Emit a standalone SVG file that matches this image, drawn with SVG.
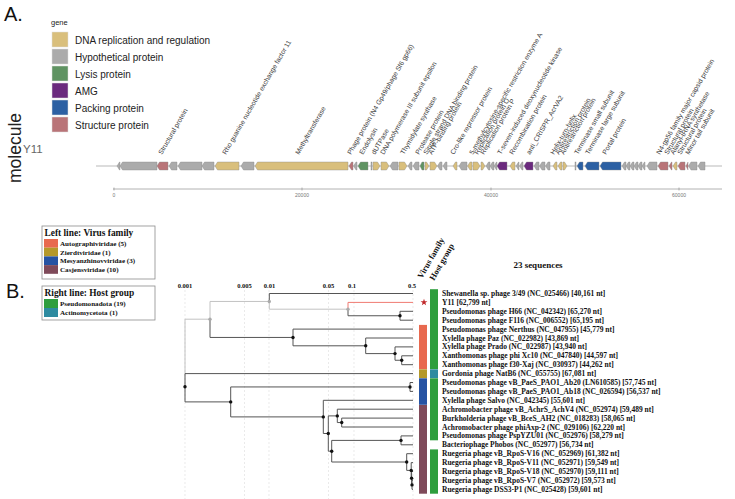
<svg xmlns="http://www.w3.org/2000/svg" width="735" height="499" viewBox="0 0 735 499">
<style>
.sans{font-family:"Liberation Sans",Arial,sans-serif}
.ser{font-family:"Liberation Serif","Times New Roman",serif;font-weight:bold;fill:#111}
.lg{font-size:10px;fill:#222}
.gl{font-size:6.8px;fill:#3a3a3a;font-family:"Liberation Sans",Arial,sans-serif}
.ax{font-size:5px;fill:#777;font-family:"Liberation Sans",Arial,sans-serif}
.gene polygon,.gene rect{stroke:#8a8a8a;stroke-width:0.4}
.T{fill:#D9BF7C}.G{fill:#ABABAB}.L{fill:#5F9362}.P{fill:#6B2A7E}.B{fill:#2C60A3}.S{fill:#B97478}
.tip{font-size:7.5px}
.sc{font-size:6.5px;text-anchor:middle}
.br{fill:none;stroke:#555;stroke-width:1}
.brl{fill:none;stroke:#c2c2c2;stroke-width:1}
.brr{fill:none;stroke:#F07A72;stroke-width:1}
.grid{stroke:#dcdcdc;stroke-width:0.6;stroke-dasharray:2,2}
.dk{fill:#111}.dg{fill:#aaa}
.box{fill:#fff;stroke:#8c8c8c;stroke-width:0.8}
.lt{font-size:9.4px}.le{font-size:7.1px}
</style>
<rect width="735" height="499" fill="#fff"/>

<!-- Panel A -->
<text class="sans" x="4" y="21" font-size="20" fill="#111">A.</text>
<g id="gene-legend" class="sans">
<text x="51" y="25" font-size="7.5" fill="#222">gene</text>
<rect x="52" y="32" width="16" height="15" class="T" stroke="#ddd" stroke-width="0.5"/>
<rect x="52" y="49" width="16" height="15" class="G" stroke="#ddd" stroke-width="0.5"/>
<rect x="52" y="66" width="16" height="15" class="L" stroke="#ddd" stroke-width="0.5"/>
<rect x="52" y="83" width="16" height="15" class="P" stroke="#ddd" stroke-width="0.5"/>
<rect x="52" y="100" width="16" height="15" class="B" stroke="#ddd" stroke-width="0.5"/>
<rect x="52" y="117" width="16" height="15" class="S" stroke="#ddd" stroke-width="0.5"/>
<text class="lg" x="75" y="43.5">DNA replication and regulation</text>
<text class="lg" x="75" y="60.5">Hypothetical protein</text>
<text class="lg" x="75" y="77.5">Lysis protein</text>
<text class="lg" x="75" y="94.5">AMG</text>
<text class="lg" x="75" y="111.5">Packing protein</text>
<text class="lg" x="75" y="128.5">Structure protein</text>
</g>
<text class="sans" transform="translate(21,148) rotate(-90)" font-size="17.5" fill="#222" text-anchor="middle">molecule</text>
<text class="sans" x="23" y="153" font-size="11.5" fill="#666">Y11</text>

<g id="axis">
<line x1="96" y1="166" x2="722" y2="166" stroke="#d0d0d0" stroke-width="1.3"/>
<line x1="113" y1="189" x2="722" y2="189" stroke="#a0a0a0" stroke-width="0.8"/>
<path d="M114,187.5V190.5M302,187.5V190.5M491,187.5V190.5M679,187.5V190.5" stroke="#888" stroke-width="0.6"/>
<text class="ax" x="114" y="197" text-anchor="middle">0</text>
<text class="ax" x="302" y="197" text-anchor="middle">20000</text>
<text class="ax" x="491" y="197" text-anchor="middle">40000</text>
<text class="ax" x="679" y="197" text-anchor="middle">60000</text>
</g>

<g id="genes" class="gene">
<polygon class="G" points="117,166 119.5,162 120,162 120,170 119.5,170"/>
<polygon class="G" points="120,166 122.5,162 157,162 157,170 122.5,170"/>
<polygon class="S" points="157,166 159.5,162 168,162 168,170 159.5,170"/>
<polygon class="G" points="169,166 171.5,162 177,162 177,170 171.5,170"/>
<polygon class="G" points="178,166 180.5,162 202,162 202,170 180.5,170"/>
<polygon class="G" points="202,166 204.5,162 214,162 214,170 204.5,170"/>
<polygon class="T" points="215,166 217.5,162 239,162 239,170 217.5,170"/>
<polygon class="G" points="241,166 243.5,162 254,162 254,170 243.5,170"/>
<polygon class="T" points="255,166 257.5,162 348,162 348,170 257.5,170"/>
<polygon class="S" points="349,166 351.5,162 353,162 353,170 351.5,170"/>
<polygon class="G" points="353.5,166 356,162 357,162 357,170 356,170"/>
<polygon class="L" points="358,166 360.5,162 368,162 368,170 360.5,170"/>
<rect class="G" x="371" y="162" width="1" height="8"/>
<polygon class="T" points="373,162 377.5,162 380,166 377.5,170 373,170"/>
<polygon class="T" points="381,162 386.5,162 389,166 386.5,170 381,170"/>
<polygon class="G" points="390,166 392.5,162 398,162 398,170 392.5,170"/>
<polygon class="T" points="399,162 404.5,162 407,166 404.5,170 399,170"/>
<polygon class="G" points="408,166 410.5,162 412,162 412,170 410.5,170"/>
<polygon class="G" points="413,166 415.5,162 419,162 419,170 415.5,170"/>
<polygon class="L" points="420,166 422,162 424,162 424,170 422,170"/>
<polygon class="T" points="425,162 426.5,162 429,166 426.5,170 425,170"/>
<polygon class="T" points="430,162 434.5,162 437,166 434.5,170 430,170"/>
<polygon class="G" points="437.5,166 440,162 442,162 442,170 440,170"/>
<polygon class="G" points="443,166 445.5,162 447,162 447,170 445.5,170"/>
<polygon class="T" points="453,166 455.5,162 457,162 457,170 455.5,170"/>
<polygon class="G" points="459,166 461.5,162 467,162 467,170 461.5,170"/>
<polygon class="T" points="467.5,166 470,162 472,162 472,170 470,170"/>
<polygon class="T" points="473,162 477.5,162 480,166 477.5,170 473,170"/>
<polygon class="T" points="481,162 482.5,162 485,166 482.5,170 481,170"/>
<polygon class="G" points="486,166 488.5,162 490,162 490,170 488.5,170"/>
<polygon class="G" points="490,166 492.5,162 494,162 494,170 492.5,170"/>
<polygon class="G" points="494,166 496.5,162 497,162 497,170 496.5,170"/>
<polygon class="P" points="497,166 499.5,162 507,162 507,170 499.5,170"/>
<polygon class="T" points="510,166 512.5,162 515,162 515,170 512.5,170"/>
<polygon class="G" points="516,166 518.5,162 519,162 519,170 518.5,170"/>
<polygon class="G" points="519.5,166 522,162 523,162 523,170 522,170"/>
<polygon class="P" points="524,166 526.5,162 533,162 533,170 526.5,170"/>
<polygon class="G" points="534,166 536.5,162 539,162 539,170 536.5,170"/>
<polygon class="G" points="539.5,166 542,162 545,162 545,170 542,170"/>
<polygon class="G" points="545.5,166 548,162 550,162 550,170 548,170"/>
<polygon class="T" points="553,166 555.5,162 557,162 557,170 555.5,170"/>
<polygon class="T" points="558,166 560.5,162 562,162 562,170 560.5,170"/>
<polygon class="T" points="563,162 564.5,162 567,166 564.5,170 563,170"/>
<rect class="G" x="575" y="162" width="1" height="8"/>
<polygon class="B" points="577,166 579.5,162 583,162 583,170 579.5,170"/>
<polygon class="B" points="585,166 587.5,162 599,162 599,170 587.5,170"/>
<polygon class="B" points="600,166 602.5,162 621,162 621,170 602.5,170"/>
<polygon class="G" points="622,166 624.5,162 626,162 626,170 624.5,170"/>
<polygon class="G" points="626,166 628.5,162 630,162 630,170 628.5,170"/>
<polygon class="G" points="630,166 632.5,162 634,162 634,170 632.5,170"/>
<polygon class="G" points="634,166 636.5,162 638,162 638,170 636.5,170"/>
<polygon class="G" points="638,166 640.5,162 642,162 642,170 640.5,170"/>
<polygon class="G" points="642,166 644.5,162 645,162 645,170 644.5,170"/>
<polygon class="G" points="647,166 649.5,162 657,162 657,170 649.5,170"/>
<polygon class="S" points="658,166 660.5,162 668,162 668,170 660.5,170"/>
<polygon class="S" points="669,166 671.5,162 672,162 672,170 671.5,170"/>
<polygon class="T" points="673,166 675.5,162 677,162 677,170 675.5,170"/>
<polygon class="S" points="678,166 680.5,162 685,162 685,170 680.5,170"/>
<polygon class="S" points="686,166 688,162 688,170"/>
<polygon class="G" points="688.5,166 691,162 697,162 697,170 691,170"/>
<polygon class="G" points="698,166 700.5,162 705,162 705,170 700.5,170"/>
</g>

<g id="gene-labels" class="gl">
<text transform="translate(162,155) rotate(-60)">Structural protein</text>
<text transform="translate(226,155) rotate(-60)">Rho guanine nucleotide exchange factor 11</text>
<text transform="translate(299,155) rotate(-60)">Methyltransferase</text>
<text transform="translate(351,155) rotate(-60)">Phage protein (N4 Gp49/phage Sf6 gp66)</text>
<text transform="translate(363,155) rotate(-60)">Endolysin</text>
<text transform="translate(375,155) rotate(-60)">dUTPase</text>
<text transform="translate(384,155) rotate(-60)">DNA polymerase III subunit epsilon</text>
<text transform="translate(404,155) rotate(-60)">Thymidylate synthase</text>
<text transform="translate(419,155) rotate(-60)">Protease protein</text>
<text transform="translate(427,155) rotate(-60)">Single strand DNA binding protein</text>
<text transform="translate(432,155) rotate(-60)">ATP-binding protein</text>
<text transform="translate(454,155) rotate(-60)">Cro-like repressor protein</text>
<text transform="translate(473,155) rotate(-60)">5-methylcytosine-specific restriction enzyme A</text>
<text transform="translate(478,155) rotate(-60)">Replication protein O</text>
<text transform="translate(484,155) rotate(-60)">Replication protein P</text>
<text transform="translate(501,155) rotate(-60)">T-seven-induced deoxynucleotide kinase</text>
<text transform="translate(513,155) rotate(-60)">Recombination protein</text>
<text transform="translate(530,155) rotate(-60)">anti_CRISPR_AcrVA2</text>
<text transform="translate(554,155) rotate(-60)">Helix-turn-helix</text>
<text transform="translate(559,155) rotate(-60)">Antirestriction protein</text>
<text transform="translate(564,155) rotate(-60)">Antirestriction protein</text>
<text transform="translate(578,155) rotate(-60)">Terminase small subunit</text>
<text transform="translate(589,155) rotate(-60)">Terminase large subunit</text>
<text transform="translate(606,155) rotate(-60)">Portal protein</text>
<text transform="translate(660,155) rotate(-60)">N4-gp56 family major capsid protein</text>
<text transform="translate(668,155) rotate(-60)">Structural protein</text>
<text transform="translate(674,155) rotate(-60)">Alanyl-tRNA synthetase</text>
<text transform="translate(681,155) rotate(-60)">Structural protein</text>
<text transform="translate(689,155) rotate(-60)">Minor tail subunit</text>
</g>

<!-- Panel B -->
<text class="sans" x="6" y="298" font-size="20" fill="#111">B.</text>
<g id="legend-family" class="ser">
<rect class="box" x="42" y="226" width="113" height="53"/>
<text class="lt" x="44.5" y="235.5">Left line: Virus family</text>
<rect x="44" y="239" width="14" height="8.7" fill="#E8694F"/>
<rect x="44" y="247.7" width="14" height="8.7" fill="#B5992A"/>
<rect x="44" y="256.4" width="14" height="8.7" fill="#2653A3"/>
<rect x="44" y="265.1" width="14" height="8.7" fill="#7F4A5A"/>
<text class="le" x="60" y="245.9">Autographiviridae (5)</text>
<text class="le" x="60" y="254.6">Zierdtviridae (1)</text>
<text class="le" x="60" y="263.3">Mesyanzhinovviridae (3)</text>
<text class="le" x="60" y="272">Casjensviridae (10)</text>
</g>
<g id="legend-host" class="ser">
<rect class="box" x="42" y="286" width="113" height="34"/>
<text class="lt" x="44.5" y="296">Right line: Host group</text>
<rect x="44" y="299" width="14" height="9" fill="#2E9E3E"/>
<rect x="44" y="308" width="14" height="9" fill="#2E8BA0"/>
<text class="le" x="60" y="306.2">Pseudomonadota (19)</text>
<text class="le" x="60" y="315.2">Actinomycetota (1)</text>
</g>

<g id="scale" class="ser">
<path class="grid" d="M185,290V499M244.5,290V499M269,290V499M328.5,290V499M354,290V499M413,290V499"/>
<text class="sc" x="185" y="288">0.001</text>
<text class="sc" x="244.5" y="288">0.005</text>
<text class="sc" x="269.5" y="288">0.01</text>
<text class="sc" x="328.5" y="288">0.05</text>
<text class="sc" x="352" y="288">0.1</text>
<text class="sc" x="412" y="288">0.5</text>
<text x="538" y="268" font-size="9" text-anchor="middle">23 sequences</text>
<text transform="translate(422,279) rotate(-60)" font-size="8.5">Virus family</text>
<text transform="translate(434,281) rotate(-60)" font-size="8.5">Host group</text>
</g>

<g id="connectors">
<path class="brl" d="M185,319.2V373.6M185,319.2H210M210,301.45V319.2M210,301.45H269.3M269.3,301.45V309.2H348"/>
<path class="brr" d="M348,309.2V302.4H413"/>
<path class="br" d="M269.3,301.45V293.5H413M348,309.2V315.75H400M400,311.3V320.2M400,311.3H413M400,320.2H413
M210,319.2V337.45H293M293,329.1V345.8M293,329.1H413M293,345.8H365.7
M365.7,338V353.6M365.7,338H413M365.7,353.6H395M395,346.9V360.25M395,346.9H413M395,360.25H401.7
M401.7,355.8V364.7M401.7,355.8H413M401.7,364.7H413
M185,373.6V401.9M185,373.6H413M185,401.9H230.7
M230.7,386.95V416.9M230.7,386.95H410M230.7,416.9H323.3M410,382.5V391.4M410,382.5H413M410,391.4H413
M323.3,400.3V433.5M323.3,400.3H413M323.3,433.5H328.3M328.3,415.9V451.2M328.3,415.9H337.3M328.3,451.2H331.7
M337.3,409.2V422.55M337.3,409.2H413M337.3,422.55H341.7M341.7,418.1V427M341.7,418.1H413M341.7,427H413
M331.7,440.4V462M331.7,440.4H401M331.7,462H406.7M401,435.9V444.8M401,435.9H413M401,444.8H413
M406.7,453.7V470.4M406.7,453.7H413M406.7,470.4H411.2M411.2,462.6V478.2M411.2,462.6H413M411.2,478.2H411.6
M411.6,471.5V484.9M411.6,471.5H413M411.6,484.9H412M412,480.4V489.3M412,480.4H413M412,489.3H413"/>
</g>

<g id="tree-nodes">
<circle class="dg" cx="269.3" cy="301.45" r="1.7"/>
<circle class="dg" cx="348" cy="309.2" r="1.7"/>
<circle class="dg" cx="210" cy="319.2" r="1.7"/>
<circle class="dk" cx="400" cy="315.75" r="1.7"/>
<circle class="dk" cx="293" cy="337.45" r="1.7"/>
<circle class="dk" cx="365.7" cy="345.8" r="1.7"/>
<circle class="dk" cx="395" cy="353.6" r="1.7"/>
<circle class="dk" cx="401.7" cy="360.25" r="1.7"/>
<circle class="dk" cx="185" cy="386.8" r="1.7"/>
<circle class="dk" cx="230.7" cy="401.9" r="1.7"/>
<circle class="dk" cx="410" cy="386.95" r="1.7"/>
<circle class="dk" cx="323.3" cy="416.9" r="1.7"/>
<circle class="dk" cx="328.3" cy="433.5" r="1.7"/>
<circle class="dk" cx="337.3" cy="415.9" r="1.7"/>
<circle class="dk" cx="341.7" cy="422.55" r="1.7"/>
<circle class="dk" cx="331.7" cy="451.2" r="1.7"/>
<circle class="dk" cx="401" cy="440.4" r="1.7"/>
<circle class="dk" cx="406.7" cy="462" r="1.7"/>
<circle class="dk" cx="411.2" cy="470.4" r="1.7"/>
<circle class="dk" cx="411.6" cy="478.2" r="1.7"/>
<circle class="dk" cx="412" cy="484.9" r="1.7"/>
</g>

<g id="bars">
<rect x="419" y="324.9" width="8" height="44.2" fill="#E8694F"/>
<rect x="419" y="369.3" width="8" height="8.8" fill="#B5992A"/>
<rect x="419" y="378.3" width="8" height="26.5" fill="#2653A3"/>
<rect x="419" y="405" width="8" height="88.7" fill="#7F4A5A"/>
<rect x="430" y="289.2" width="8" height="79.9" fill="#2E9E3E"/>
<rect x="430" y="369.3" width="8" height="8.8" fill="#2E8BA0"/>
<rect x="430" y="378.3" width="8" height="62" fill="#2E9E3E"/>
<rect x="430" y="449.4" width="8" height="44.3" fill="#2E9E3E"/>
<polygon id="star" fill="#C0282A" points="424,298.8 424.85,301.23 427.42,301.29 425.38,302.85 426.12,305.31 424,303.85 421.88,305.31 422.62,302.85 420.58,301.29 423.15,301.23"/>
</g>

<g id="tips" class="ser tip">
<g id="t0"><text x="442" y="296">Shewanella sp. phage 3/49 (NC_025466) [40,161 nt]</text></g>
<g id="t1"><text x="442" y="304.9">Y11 [62,799 nt]</text></g>
<g id="t2"><text x="442" y="313.8">Pseudomonas phage H66 (NC_042342) [65,270 nt]</text></g>
<g id="t3"><text x="442" y="322.7">Pseudomonas phage F116 (NC_006552) [65,195 nt]</text></g>
<g id="t4"><text x="442" y="331.6">Pseudomonas phage Nerthus (NC_047955) [45,779 nt]</text></g>
<g id="t5"><text x="442" y="340.5">Xylella phage Paz (NC_022982) [43,869 nt]</text></g>
<g id="t6"><text x="442" y="349.4">Xylella phage Prado (NC_022987) [43,940 nt]</text></g>
<g id="t7"><text x="442" y="358.3">Xanthomonas phage phi Xc10 (NC_047840) [44,597 nt]</text></g>
<g id="t8"><text x="442" y="367.2">Xanthomonas phage f30-Xaj (NC_030937) [44,262 nt]</text></g>
<g id="t9"><text x="442" y="376.1">Gordonia phage NatB6 (NC_055755) [67,081 nt]</text></g>
<g id="t10"><text x="442" y="385">Pseudomonas phage vB_PaeS_PAO1_Ab20 (LN610585) [57,745 nt]</text></g>
<g id="t11"><text x="442" y="393.9">Pseudomonas phage vB_PaeS_PAO1_Ab18 (NC_026594) [56,537 nt]</text></g>
<g id="t12"><text x="442" y="402.8">Xylella phage Salvo (NC_042345) [55,601 nt]</text></g>
<g id="t13"><text x="442" y="411.7">Achromobacter phage vB_AchrS_AchV4 (NC_052974) [59,489 nt]</text></g>
<g id="t14"><text x="442" y="420.6">Burkholderia phage vB_BceS_AH2 (NC_018283) [58,065 nt]</text></g>
<g id="t15"><text x="442" y="429.5">Achromobacter phage phiAxp-2 (NC_029106) [62,220 nt]</text></g>
<g id="t16"><text x="442" y="438.4">Pseudomonas phage PspYZU01 (NC_052976) [58,279 nt]</text></g>
<g id="t17"><text x="442" y="447.3">Bacteriophage Phobos (NC_052977) [56,734 nt]</text></g>
<g id="t18"><text x="442" y="456.2">Ruegeria phage vB_RpoS-V16 (NC_052969) [61,382 nt]</text></g>
<g id="t19"><text x="442" y="465.1">Ruegeria phage vB_RpoS-V11 (NC_052971) [59,549 nt]</text></g>
<g id="t20"><text x="442" y="474">Ruegeria phage vB_RpoS-V18 (NC_052970) [59,111 nt]</text></g>
<g id="t21"><text x="442" y="482.9">Ruegeria phage vB_RpoS-V7 (NC_052972) [59,573 nt]</text></g>
<g id="t22"><text x="442" y="491.8">Ruegeria phage DSS3-P1 (NC_025428) [59,601 nt]</text></g>
</g>
</svg>
